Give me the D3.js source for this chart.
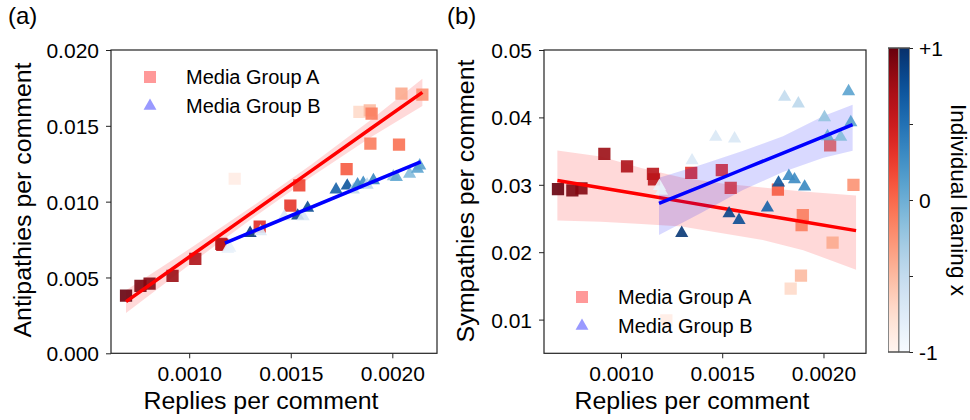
<!DOCTYPE html>
<html><head><meta charset="utf-8">
<script src="https://cdn.jsdelivr.net/npm/d3@7"></script>
<style>
body{margin:0;background:#fff;}
text{font-family:"Liberation Sans",Arial,Helvetica,sans-serif;fill:#000;}
</style></head>
<body><svg id="c" width="970" height="420"></svg>
<script>
// ---------------- DATA ----------------
// Media Group A (squares)
const xA     = [0.000689,0.000760,0.000805,0.000918,0.001030,0.001158,0.001163,0.001224,0.001347,0.001498,0.001542,0.001775,0.001838,0.001889,0.001898,0.001892,0.002033,0.002045,0.002148];
const antiA  = [0.00380,0.00445,0.00460,0.00510,0.00623,0.00722,0.00715,0.01151,0.00836,0.00973,0.01107,0.01215,0.01592,0.01602,0.01581,0.01382,0.01376,0.01713,0.01706];
const sympA  = [0.02936,0.02916,0.02946,0.03457,0.03272,0.03163,0.03079,0.00990,0.03178,0.03217,0.02955,0.02930,0.01461,0.01653,0.02549,0.02400,0.03585,0.02142,0.03000];
const leanA  = [1.0,0.92,0.88,0.78,0.68,0.62,0.60,-0.90,0.35,0.30,0.22,0.08,-0.72,-0.50,-0.12,-0.12,-0.05,-0.40,-0.25];
// Media Group B (triangles)
const xB     = [0.001190,0.001200,0.001300,0.001351,0.001468,0.001534,0.001561,0.001583,0.001723,0.001778,0.001808,0.001829,0.001857,0.001876,0.001907,0.002005,0.002020,0.002085,0.002124,0.002135];
const antiB  = [0.00687,0.00695,0.00792,0.00803,0.00902,0.00907,0.00902,0.00958,0.01079,0.01105,0.01079,0.01112,0.01123,0.01110,0.01140,0.01166,0.01162,0.01182,0.01215,0.01237];
const sympB  = [0.02980,0.02910,0.02282,0.03360,0.03709,0.02574,0.03684,0.02475,0.02659,0.03030,0.04303,0.03128,0.03079,0.04203,0.02970,0.04000,0.03718,0.03709,0.04386,0.03926];
const leanB  = [-0.88,-0.85,0.95,-0.72,-0.70,0.85,-0.70,0.78,0.62,0.72,-0.50,0.30,0.30,-0.45,0.32,-0.20,0.05,-0.12,0.10,0.12];

// Regression fits (lines and confidence bands)
const fitAntiA_x  = [0.000689,0.0010,0.0013,0.0016,0.0019,0.002148];
const fitAntiA_y  = [0.00341,0.00635,0.00919,0.01203,0.01487,0.01721];
const fitAntiA_lo = [0.00266,0.00583,0.00879,0.01163,0.01429,0.01631];
const fitAntiA_hi = [0.00416,0.00687,0.00959,0.01243,0.01545,0.01811];

const fitAntiB_x  = [0.001176,0.00214];
const fitAntiB_y  = [0.00727,0.01262];
const fitAntiB_lo = [0.00717,0.01250];
const fitAntiB_hi = [0.00737,0.01274];

const fitSympA_x  = [0.000686,0.0009,0.0011,0.0013,0.0015,0.0017,0.0019,0.002161];
const fitSympA_y  = [0.03064,0.02956,0.02855,0.02754,0.02653,0.02553,0.02452,0.02320];
const fitSympA_lo = [0.02470,0.02450,0.02420,0.02380,0.02280,0.02180,0.02030,0.01740];
const fitSympA_hi = [0.03510,0.03420,0.03250,0.03110,0.03020,0.02960,0.02900,0.02840];

const fitSympB_x  = [0.001188,0.0014,0.0016,0.0018,0.0020,0.002144];
const fitSympB_y  = [0.02723,0.02982,0.03227,0.03471,0.03716,0.03892];
const fitSympB_lo = [0.02257,0.02590,0.02920,0.03190,0.03400,0.03504];
const fitSympB_hi = [0.03104,0.03300,0.03500,0.03720,0.04020,0.04188];

const xTicks   = [0.0010,0.0015,0.0020];
const yTicksA  = [0.000,0.005,0.010,0.015,0.020];
const yTicksB  = [0.01,0.02,0.03,0.04,0.05];
const cbTicks  = [-1,-0.5,0,0.5,1];
const cbLabels = {"-1":"-1","0":"0","1":"+1"};
const legendLabels = ["Media Group A","Media Group B"];

// ---------------- DRAW ----------------
const svg = d3.select("#c");
const redC = t => d3.interpolateReds((t+1)/2);
const bluC = t => d3.interpolateBlues((t+1)/2);

function panel(cfg){
  const g = svg.append("g");
  const x = d3.scaleLinear().domain(cfg.xdom).range([cfg.x0,cfg.x1]);
  const y = d3.scaleLinear().domain(cfg.ydom).range([cfg.y1,cfg.y0]);

  const area = (xs,lo,hi)=>d3.area().x((d,i)=>x(xs[i])).y0((d,i)=>y(lo[i])).y1((d,i)=>y(hi[i]))(xs);
  const line = (xs,ys)=>d3.line().x((d,i)=>x(xs[i])).y((d,i)=>y(ys[i]))(xs);

  const clip = "clip"+cfg.id;
  svg.append("clipPath").attr("id",clip).append("rect")
    .attr("x",cfg.x0).attr("y",cfg.y0).attr("width",cfg.x1-cfg.x0).attr("height",cfg.y1-cfg.y0);
  const pg = g.append("g").attr("clip-path",`url(#${clip})`);

  // group A
  pg.append("path").attr("d",area(cfg.fA.x,cfg.fA.lo,cfg.fA.hi)).attr("fill","rgba(255,0,0,0.15)");
  pg.selectAll(".sq").data(xA).enter().append("path")
    .attr("d",d3.symbol(d3.symbolSquare,150)())
    .attr("transform",(d,i)=>`translate(${x(d)},${y(cfg.yA[i])})`)
    .attr("fill",(d,i)=>redC(leanA[i])).attr("fill-opacity",0.9);
  pg.append("path").attr("d",line(cfg.fA.x,cfg.fA.y)).attr("stroke","#ff0000").attr("stroke-width",3.5).attr("fill","none");
  // group B
  pg.append("path").attr("d",area(cfg.fB.x,cfg.fB.lo,cfg.fB.hi)).attr("fill","rgba(0,0,255,0.15)");
  pg.selectAll(".tr").data(xB).enter().append("path")
    .attr("d",d3.symbol(d3.symbolTriangle,75)())
    .attr("transform",(d,i)=>`translate(${x(d)},${y(cfg.yB[i])})`)
    .attr("fill",(d,i)=>bluC(leanB[i])).attr("fill-opacity",0.9);
  pg.append("path").attr("d",line(cfg.fB.x,cfg.fB.y)).attr("stroke","#0000ff").attr("stroke-width",3.5).attr("fill","none");

  // axes
  const ax = g.append("g").attr("transform",`translate(0,${cfg.y1})`)
    .call(d3.axisBottom(x).tickValues(xTicks).tickFormat(d3.format(".4f")).tickSize(5).tickPadding(6));
  const ay = g.append("g").attr("transform",`translate(${cfg.x0},0)`)
    .call(d3.axisLeft(y).tickValues(cfg.yticks).tickFormat(d3.format(cfg.yfmt)).tickSize(5).tickPadding(7));
  [ax,ay].forEach(a=>{
    a.select(".domain").remove();
    a.selectAll("line").attr("stroke","#222").attr("stroke-width",1);
    a.selectAll("text").style("font-size","21px").style("font-family","Liberation Sans, Arial, sans-serif").attr("fill","#000");
  });
  ay.selectAll("text").attr("dy","0.36em");
  ax.selectAll("text").attr("dy","0.78em");

  g.append("rect").attr("x",cfg.x0).attr("y",cfg.y0).attr("width",cfg.x1-cfg.x0).attr("height",cfg.y1-cfg.y0)
    .attr("fill","none").attr("stroke","#222").attr("stroke-width",1.2);

  // titles
  g.append("text").attr("x",(cfg.x0+cfg.x1)/2-13).attr("y",409).attr("text-anchor","middle")
    .attr("textLength",235).attr("lengthAdjust","spacingAndGlyphs")
    .style("font-size","23px").text("Replies per comment");
  g.append("text").attr("transform",`translate(${cfg.ytx},${cfg.yty}) rotate(-90)`).attr("text-anchor","middle")
    .attr("textLength",cfg.ytl).attr("lengthAdjust","spacingAndGlyphs")
    .style("font-size","23px").text(cfg.ytitle);
  g.append("text").attr("x",cfg.labx).attr("y",24).style("font-size","24px").text(cfg.lab);

  // legend
  const lg = g.append("g");
  lg.append("rect").attr("x",cfg.lgx-6).attr("y",cfg.lgy-6).attr("width",12).attr("height",12).attr("fill","#ff9999");
  lg.append("path").attr("d",d3.symbol(d3.symbolTriangle,72)()).attr("transform",`translate(${cfg.lgx},${cfg.lgy+29})`).attr("fill","#9999ff");
  legendLabels.forEach((t,i)=>{
    lg.append("text").attr("x",cfg.lgx+36).attr("y",cfg.lgy+i*29).attr("dy","0.36em").style("font-size","20px").text(t);
  });
}

panel({id:"a",x0:111,x1:437,y0:50,y1:353.3,xdom:[0.000615,0.00222],ydom:[0,0.02],
  yA:antiA,yB:antiB,
  fA:{x:fitAntiA_x,y:fitAntiA_y,lo:fitAntiA_lo,hi:fitAntiA_hi},
  fB:{x:fitAntiB_x,y:fitAntiB_y,lo:fitAntiB_lo,hi:fitAntiB_hi},
  yticks:yTicksA,yfmt:".3f",ytitle:"Antipathies per comment",ytx:31,yty:200,ytl:275,
  lab:"(a)",labx:8,lgx:150,lgy:77});
panel({id:"b",x0:544,x1:866,y0:50,y1:353.3,xdom:[0.00062,0.00221],ydom:[0.005,0.05],
  yA:sympA,yB:sympB,
  fA:{x:fitSympA_x,y:fitSympA_y,lo:fitSympA_lo,hi:fitSympA_hi},
  fB:{x:fitSympB_x,y:fitSympB_y,lo:fitSympB_lo,hi:fitSympB_hi},
  yticks:yTicksB,yfmt:".2f",ytitle:"Sympathies per comment",ytx:474,yty:201,ytl:283,
  lab:"(b)",labx:447,lgx:582,lgy:297});

// ---------------- COLORBAR ----------------
const cb = svg.append("g");
const cy = d3.scaleLinear().domain([-1,1]).range([352,48]);
const defs = svg.append("defs");
[["gR",d3.interpolateReds],["gB",d3.interpolateBlues]].forEach(([id,f])=>{
  const lgd = defs.append("linearGradient").attr("id",id).attr("x1",0).attr("y1",1).attr("x2",0).attr("y2",0);
  d3.range(0,1.0001,0.05).forEach(t=>lgd.append("stop").attr("offset",t).attr("stop-color",f(t)));
});
cb.append("rect").attr("x",888.5).attr("y",cy(1)).attr("width",10).attr("height",cy(-1)-cy(1)).attr("fill","url(#gR)").attr("stroke","#888").attr("stroke-width",1);
cb.append("rect").attr("x",899).attr("y",cy(1)).attr("width",10.5).attr("height",cy(-1)-cy(1)).attr("fill","url(#gB)").attr("stroke","#888").attr("stroke-width",1);
cb.append("line").attr("x1",888).attr("x2",910).attr("y1",cy(1)).attr("y2",cy(1)).attr("stroke","#333");
cb.append("line").attr("x1",888).attr("x2",910).attr("y1",cy(-1)).attr("y2",cy(-1)).attr("stroke","#333");
const cax = cb.append("g").attr("transform","translate(909.5,0)")
  .call(d3.axisRight(cy).tickValues(cbTicks).tickFormat(d=>cbLabels[String(d)]||"").tickSize(3.5).tickPadding(6));
cax.select(".domain").remove();
cax.selectAll("line").attr("stroke","#222");
cax.selectAll("text").style("font-size","21px").style("font-family","Liberation Sans, Arial, sans-serif").attr("fill","#000").attr("dy","0.36em");
cb.append("text").attr("transform","translate(951,200) rotate(90)").attr("text-anchor","middle")
  .attr("textLength",192).attr("lengthAdjust","spacingAndGlyphs")
  .style("font-size","22px").text("Individual leaning x");
</script></body></html>
